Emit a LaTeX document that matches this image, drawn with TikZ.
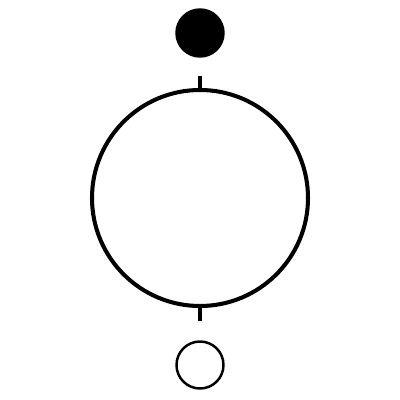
\documentclass[tikz,border=0pt]{standalone}
\usepackage{tikz}
\usetikzlibrary{calc}
\tikzset{
	ring/.style={circle,draw,line width=2.3pt,inner sep=0pt,minimum size=4.32cm},
	token/.style={circle,draw,line width=1.4pt,inner sep=0pt,minimum size=0.94cm},
	stub/.style={line width=2.3pt}
}
\begin{document}
\begin{tikzpicture}
				\useasboundingbox (0,0) rectangle (8,8);
				\coordinate (TopStub)    at (4,6.48);
				\coordinate (BottomStub) at (4,1.58);
				\node[ring] (Big) at (4,4.04) {};% Draw main circle
				\node[token,fill=black] (Full) at (4,7.34) {};% Filled marker
				\node[token] (Empty) at (4,0.70) {};% Open marker
				
				\draw[stub] (TopStub) -- (Big.north);
				\draw[stub] (Big.south) -- (BottomStub);
\end{tikzpicture}
\end{document}
